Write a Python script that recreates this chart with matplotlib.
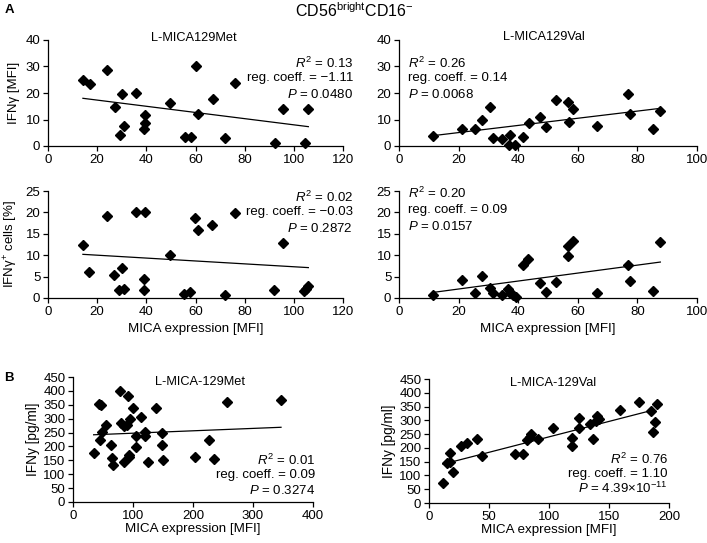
import matplotlib
matplotlib.use('Agg')
import matplotlib.pyplot as plt

plt.rcParams['font.family'] = ['Liberation Sans', 'DejaVu Sans']
plt.rcParams['mathtext.fontset'] = 'custom'
plt.rcParams['mathtext.rm'] = 'Liberation Sans'
plt.rcParams['mathtext.it'] = 'Liberation Sans:italic'
plt.rcParams['mathtext.bf'] = 'Liberation Sans:bold'

# panel A, L-MICA129Met (shared x for both rows)
met_x = [14.2, 17.0, 24.0, 27.1, 30.1, 30.8, 29.2, 35.9, 39.6, 39.3, 38.9, 49.8,
         55.6, 58.0, 60.1, 61.0, 67.1, 72.1, 75.9, 92.2, 95.7, 104.4, 105.9]
met_mfi = [24.9, 23.4, 28.7, 14.6, 19.7, 7.5, 4.2, 20.1, 11.7, 8.6, 6.4, 16.1,
           3.5, 3.3, 30.2, 12.0, 17.7, 3.1, 23.9, 1.0, 14.1, 1.3, 13.8]
met_x2 = [14.2, 16.7, 24.0, 26.8, 30.0, 28.7, 30.8, 35.7, 39.5, 39.1, 38.9, 49.6,
          55.3, 57.9, 59.8, 60.9, 66.8, 72.0, 75.9, 91.9, 95.6, 104.0, 105.1, 105.9]
met_pct = [12.4, 6.1, 19.2, 5.3, 6.9, 1.8, 2.1, 20.1, 20.2, 4.5, 1.8, 10.1,
           0.9, 1.3, 18.8, 15.9, 17.0, 0.7, 19.9, 1.9, 12.9, 1.7, 2.2, 2.9]

# panel A, L-MICA129Val
val_x = [11.4, 21.2, 25.4, 28.0, 30.7, 31.6, 34.4, 36.8, 37.2, 38.9, 41.6, 43.6,
         47.3, 49.2, 52.8, 56.7, 56.9, 58.3, 66.3, 76.8, 77.6, 85.2, 87.6]
val_mfi = [3.6, 6.4, 6.6, 9.7, 14.8, 3.0, 2.5, 0.5, 4.2, 0.2, 3.3, 8.5,
           10.8, 7.0, 17.2, 16.6, 9.1, 13.8, 7.6, 19.7, 11.9, 6.3, 13.3]
val_x2 = [11.4, 21.2, 25.6, 27.9, 30.5, 31.4, 34.4, 36.5, 37.4, 38.3, 39.1, 41.5,
          43.4, 47.3, 49.2, 52.8, 56.7, 56.8, 58.3, 66.3, 76.8, 77.6, 85.3, 87.6]
val_pct = [0.7, 4.2, 1.25, 5.1, 2.3, 1.2, 0.6, 2.0, 1.2, 0.6, 0.2, 7.6,
           9.2, 3.5, 1.3, 3.75, 12.1, 9.9, 13.4, 1.2, 7.8, 3.9, 1.7, 13.0]

# panel B
bmet_x = [34.4, 43.9, 46.7, 48.9, 44.4, 55.0, 63.9, 64.4, 67.2, 78.3, 79.4, 85.6,
          85.6, 91.7, 92.8, 92.8, 90.6, 95.6, 100.0, 104.4, 105.0, 112.8, 119.4,
          120.6, 124.4, 138.3, 148.9, 147.8, 149.4, 204.0, 227.0, 235.0, 257.0, 346.7]
bmet_y = [176, 352, 348, 251, 223, 276, 205, 158, 135, 399, 283, 274,
          145, 381, 162, 170, 279, 299, 338, 199, 236, 305, 251,
          238, 143, 340, 250, 205, 150, 161, 223, 155, 361, 366]
bval_x = [11.4, 17.2, 15.3, 17.5, 20.3, 26.9, 31.4, 39.7, 44.2, 71.4, 78.3, 81.9,
          84.7, 84.0, 90.8, 103.6, 118.9, 118.9, 125.3, 125.0, 133.9, 136.7, 138.9,
          140.3, 141.4, 159.2, 174.7, 184.7, 189.7, 188.3, 186.4]
bval_y = [72, 182, 144, 150, 113, 207, 216, 234, 172, 177, 177, 228,
          249, 240, 231, 273, 236, 208, 308, 272, 287, 231, 299,
          315, 305, 338, 368, 333, 359, 293, 257]

# regression line end points
fit_met_mfi = ([14.2, 105.9], [18.0, 7.3])
fit_met_pct = ([14.2, 105.9], [10.2, 7.1])
fit_val_mfi = ([11.4, 87.6], [3.9, 14.2])
fit_val_pct = ([11.4, 87.7], [1.3, 8.4])
fit_bmet = ([34.4, 346.7], [242, 269])
fit_bval = ([11.7, 184.7], [141, 335])

stats_met_mfi = ['0.13', '\u22121.11', '0.0480']
stats_val_mfi = ['0.26', '0.14', '0.0068']
stats_met_pct = ['0.02', '\u22120.03', '0.2872']
stats_val_pct = ['0.20', '0.09', '0.0157']
stats_bmet = ['0.01', '0.09', '0.3274']
stats_bval = ['0.76', '1.10', '4.39\u00d710$^{\\mathrm{-11}}$']

W, H = 707, 543


def px_axes(fig, x0, y0, x1, y1):
    return fig.add_axes([x0 / W, 1 - y1 / H, (x1 - x0) / W, (y1 - y0) / H])


def style(ax, xlim, xstep, ylim, ystep):
    ax.set_xlim(*xlim)
    ax.set_ylim(*ylim)
    ax.set_xticks(range(xlim[0], xlim[1] + 1, xstep))
    ax.set_yticks(range(ylim[0], ylim[1] + 1, ystep))
    for s in ('top', 'right'):
        ax.spines[s].set_visible(False)
    for s in ('left', 'bottom'):
        ax.spines[s].set_linewidth(0.9)
    ax.tick_params(direction='out', length=3.5, width=0.9, labelsize=9.5, pad=2)


def draw(ax, x, y, fit):
    ax.plot(x, y, 'D', color='black', ms=4.6, mec='black', clip_on=False, zorder=3)
    ax.plot(fit[0], fit[1], color='black', lw=0.9)


def stats(fig, vals, x, y, ha, dy=15.5):
    lines = [r'$R^{\mathrm{2}}$ = ' + vals[0],
             'reg. coeff. = ' + vals[1],
             r'$P$ = ' + vals[2]]
    for i, t in enumerate(lines):
        fig.text(x / W, 1 - (y + i * dy) / H, t, ha=ha, va='center', fontsize=9.5)


fig = plt.figure(figsize=(7.07, 5.43), dpi=100)

fig.text(354 / W, 1 - 11 / H, r'CD56$^{\mathrm{bright}}$CD16$^{\mathrm{-}}$',
         ha='center', va='center', fontsize=11.5)
fig.text(5 / W, 1 - 10 / H, 'A', fontweight='bold', fontsize=9.5, va='center')
fig.text(4 / W, 1 - 378 / H, 'B', fontweight='bold', fontsize=9.5, va='center')

ax1 = px_axes(fig, 48, 40, 343, 146)
style(ax1, (0, 120), 20, (0, 40), 10)
draw(ax1, met_x, met_mfi, fit_met_mfi)
ax1.set_ylabel('IFN\u03b3 [MFI]', fontsize=9.5, labelpad=4)
fig.text(194 / W, 1 - 38 / H, 'L-MICA129Met', ha='center', va='center', fontsize=9.2)
stats(fig, stats_met_mfi, 353, 63, 'right')

ax2 = px_axes(fig, 399, 40, 697, 146)
style(ax2, (0, 100), 20, (0, 40), 10)
draw(ax2, val_x, val_mfi, fit_val_mfi)
fig.text(544 / W, 1 - 37 / H, 'L-MICA129Val', ha='center', va='center', fontsize=9.2)
stats(fig, stats_val_mfi, 408, 63, 'left')

ax3 = px_axes(fig, 48, 191, 343, 298)
style(ax3, (0, 120), 20, (0, 25), 5)
draw(ax3, met_x2, met_pct, fit_met_pct)
ax3.set_ylabel('IFN\u03b3$^{+}$ cells [%]', fontsize=9.5, labelpad=4)
ax3.set_xlabel('MICA expression [MFI]', fontsize=9.6, labelpad=4)
stats(fig, stats_met_pct, 353, 197, 'right')

ax4 = px_axes(fig, 399, 191, 697, 298)
style(ax4, (0, 100), 20, (0, 25), 5)
draw(ax4, val_x2, val_pct, fit_val_pct)
ax4.set_xlabel('MICA expression [MFI]', fontsize=9.6, labelpad=4)
stats(fig, stats_val_pct, 408, 193, 'left', dy=17)

ax5 = px_axes(fig, 73, 377, 313, 502)
style(ax5, (0, 400), 100, (0, 450), 50)
draw(ax5, bmet_x, bmet_y, fit_bmet)
ax5.set_ylabel('IFNy [pg/ml]', fontsize=9.8, labelpad=2)
ax5.set_xlabel('MICA expression [MFI]', fontsize=9.6, labelpad=1)
fig.text(200 / W, 1 - 382 / H, 'L-MICA-129Met', ha='center', va='center', fontsize=9.2)
stats(fig, stats_bmet, 315, 460, 'right', dy=15)

ax6 = px_axes(fig, 429, 379, 669, 503)
style(ax6, (0, 200), 50, (0, 450), 50)
draw(ax6, bval_x, bval_y, fit_bval)
ax6.set_ylabel('IFNy [pg/ml]', fontsize=9.8, labelpad=2)
ax6.set_xlabel('MICA expression [MFI]', fontsize=9.6, labelpad=1)
fig.text(553 / W, 1 - 383 / H, 'L-MICA-129Val', ha='center', va='center', fontsize=9.2)
stats(fig, stats_bval, 668, 459, 'right', dy=14.5)

fig.savefig('out.png', dpi=100)
